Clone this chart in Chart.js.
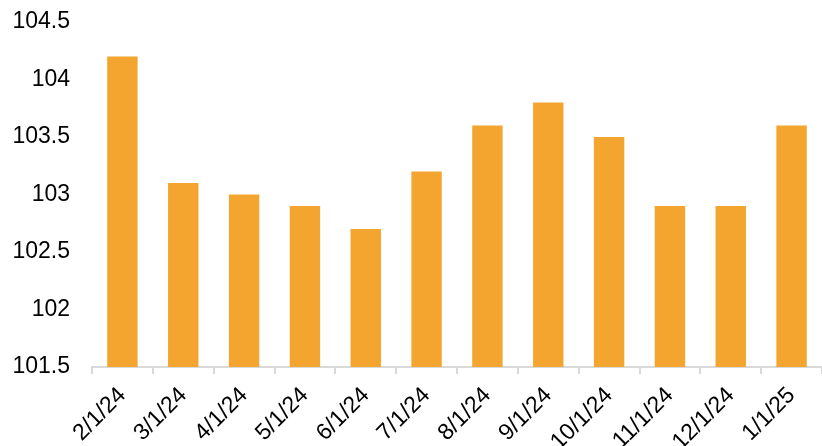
<!DOCTYPE html>
<html>
<head>
<meta charset="utf-8">
<script src="https://cdn.jsdelivr.net/npm/chart.js@4"></script>
<style>
  html, body { margin: 0; padding: 0; background: #fff; overflow: hidden; }
  #wrap { width: 822px; height: 446px; }
</style>
</head>
<body>
<div id="wrap"><canvas id="chart"></canvas></div>
<script>
var categories = ['2/1/24', '3/1/24', '4/1/24', '5/1/24', '6/1/24', '7/1/24',
  '8/1/24', '9/1/24', '10/1/24', '11/1/24', '12/1/24', '1/1/25'];
var values = [104.2, 103.1, 103.0, 102.9, 102.7, 103.2, 103.6, 103.8, 103.5, 102.9, 102.9, 103.6];
var yMin = 101.5;
var yMax = 104.5;
var yStep = 0.5;

var font = { family: '"Liberation Sans", Arial, sans-serif', size: 23 };

new Chart(document.getElementById('chart').getContext('2d'), {
  type: 'bar',
  data: {
    labels: categories,
    datasets: [{
      data: values,
      backgroundColor: '#F4A52F',
      borderWidth: 0,
      categoryPercentage: 1,
      barPercentage: 0.5
    }]
  },
  options: {
    responsive: true,
    maintainAspectRatio: false,
    animation: false,
    layout: { padding: { top: 22, right: 0, left: 0, bottom: 0 } },
    plugins: { legend: { display: false }, tooltip: { enabled: false } },
    scales: {
      x: {
        offset: true,
        grid: { display: true, drawOnChartArea: false, color: '#d9d9d9', tickLength: 7, lineWidth: 2, offset: true },
        border: { display: true, color: '#d9d9d9', width: 2 },
        ticks: { color: '#000', font: font, minRotation: 45, maxRotation: 45, autoSkip: false, padding: 8 },
        afterFit: function (scale) { scale.height = 79; }
      },
      y: {
        min: yMin,
        max: yMax,
        grid: { display: false },
        border: { display: false },
        ticks: {
          color: '#000', font: font, stepSize: yStep, padding: 14,
          callback: function (v) { return String(Math.round(v * 10) / 10); }
        },
        afterFit: function (scale) {
          scale.width = 92;
          scale.paddingTop = 0;
          scale.paddingBottom = 0;
        }
      }
    }
  }
});
</script>
</body>
</html>
